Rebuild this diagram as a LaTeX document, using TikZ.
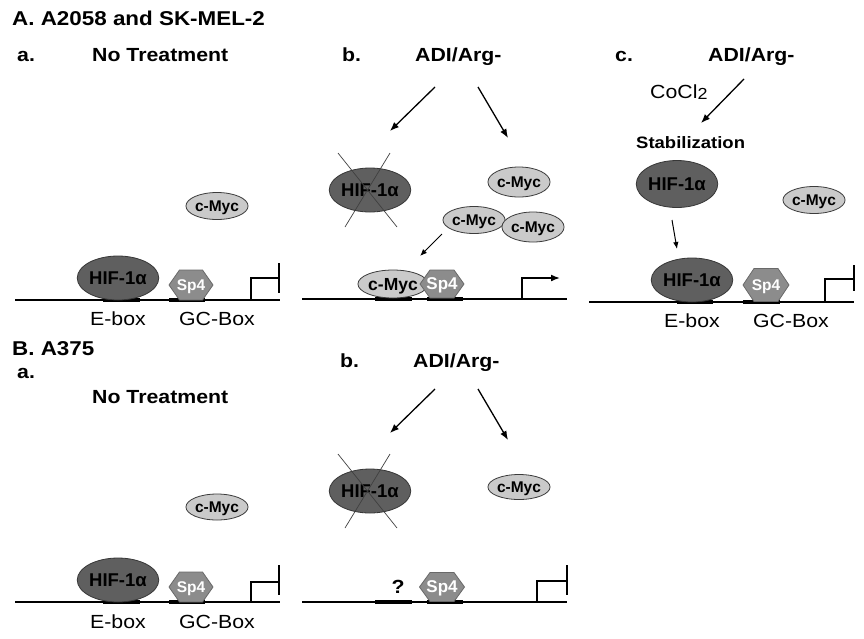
\documentclass[tikz,border=0pt]{standalone}
\usepackage{fontspec}
\setmainfont[FakeStretch=1.12]{Liberation Sans}
\newfontfamily\nodefont{Liberation Sans}
\usetikzlibrary{shapes.geometric,arrows.meta}
\definecolor{hifgray}{RGB}{95,95,95}
\definecolor{hifline}{RGB}{55,55,55}
\definecolor{mycgray}{RGB}{202,202,202}
\definecolor{mycline}{RGB}{60,60,60}
\definecolor{spgray}{RGB}{140,140,140}
\definecolor{spline}{RGB}{105,105,105}
% hexagon body: x, y, half-width, half-height, chamfer
\newcommand{\sphexagon}[5]{%
  \filldraw[sphex] ({#1-#3},#2) -- ({#1-#3+#5},{#2-#4}) -- ({#1+#3-#5},{#2-#4})
    -- ({#1+#3},#2) -- ({#1+#3-#5},{#2+#4}) -- ({#1-#3+#5},{#2+#4}) -- cycle;}
\begin{document}
\begin{tikzpicture}[x=1pt,y=-1pt,
  hifnode/.style={ellipse, draw=hifline, fill=hifgray, line width=0.8pt, inner sep=0pt, text depth=0pt, font=\nodefont\fontsize{18.5}{19}\selectfont\bfseries, text=black},
  mycnode/.style={ellipse, draw=mycline, fill=mycgray, line width=0.8pt, inner sep=0pt, text depth=0pt, font=\nodefont\fontsize{15.5}{16}\selectfont\bfseries},
  sphex/.style={draw=spline, fill=spgray, line width=0.8pt, line join=miter},
  sptext/.style={rectangle, inner sep=0pt, minimum width=44pt, minimum height=30pt, text depth=0pt, text=white, font=\nodefont\fontsize{15.5}{16}\selectfont\bfseries},
  dna/.style={line width=1.6pt},
  site/.style={line width=3.5pt},
  arr/.style={line width=1.3pt, -{Latex[length=9pt,width=7pt]}},
  sarr/.style={line width=1pt, -{Latex[length=7pt,width=5.5pt]}},
  crossline/.style={line width=0.7pt, draw=black!75},
  head/.style={font=\fontsize{20}{24}\selectfont\bfseries, anchor=base west, inner sep=0pt},
  lab/.style={font=\fontsize{19}{22}\selectfont\bfseries, anchor=base west, inner sep=0pt},
  boxlab/.style={font=\fontsize{19}{22}\selectfont, anchor=base, inner sep=0pt}
]
\useasboundingbox (0,0) rectangle (864,638);
\fill[white] (0,0) rectangle (864,638);

% ================= Panel A =================
\node[head] (hA) at (12,25) {A. A2058 and SK-MEL-2};

% ---- A.a ----
\node[lab] (aA) at (17,61) {a.};
\node[lab] (ntA) at (92,61) {No Treatment};
\coordinate (dA1s) at (15,300); \coordinate (dA1e) at (280,300);
\draw[dna] (dA1s) -- (dA1e);
\coordinate (eA1s) at (103,300); \coordinate (eA1e) at (140,300);
\coordinate (gA1s) at (169,300); \coordinate (gA1e) at (205,300);
\draw[site] (eA1s) -- (eA1e);
\draw[site] (gA1s) -- (gA1e);
\node[mycnode, minimum width=52pt, minimum height=27pt] (mycA1) at (217,206) {c-Myc};
\node[hifnode, minimum width=60pt, minimum height=44pt] (hifA1) at (118,278) {HIF-1α};
\sphexagon{191}{285}{22}{15}{10.5}
\node[sptext] (spA1) at (191,285) {Sp4};
\coordinate (pA1) at (251,300); \coordinate (pA1c) at (279,278);
\coordinate (bA1t) at (279,263); \coordinate (bA1b) at (279,293);
\draw[dna] (pA1) |- (pA1c);
\draw[dna] (bA1t) -- (bA1b);
\node[boxlab] (ebA1) at (118,325) {E-box};
\node[boxlab] (gcA1) at (217,325) {GC-Box};

% ---- A.b ----
\node[lab] (bA) at (342,61) {b.};
\node[lab] (adiA2) at (415,61) {ADI/Arg-};
\coordinate (a2l0) at (435,87); \coordinate (a2l1) at (390,131);
\coordinate (a2r0) at (478,87); \coordinate (a2r1) at (508,138);
\draw[arr] (a2l0) -- (a2l1);
\draw[arr] (a2r0) -- (a2r1);
\node[hifnode, minimum width=65pt, minimum height=44pt] (hifA2) at (370,190) {HIF-1α};
\coordinate (xA1) at (338,153); \coordinate (xA2) at (397,227);
\coordinate (xA3) at (390,153); \coordinate (xA4) at (345,227);
\draw[crossline] (xA1) -- (xA2);
\draw[crossline] (xA3) -- (xA4);
\node[mycnode, minimum width=52pt, minimum height=30pt] (mycA2a) at (519,182) {c-Myc};
\node[mycnode, minimum width=53pt, minimum height=27pt] (mycA2b) at (474,220) {c-Myc};
\node[mycnode, minimum width=53pt, minimum height=30pt] (mycA2c) at (533,227) {c-Myc};
\coordinate (sa0) at (442,234); \coordinate (sa1) at (420,256);
\draw[sarr] (sa0) -- (sa1);
\coordinate (dA2s) at (302,299); \coordinate (dA2e) at (567,299);
\draw[dna] (dA2s) -- (dA2e);
\coordinate (eA2s) at (375,299); \coordinate (eA2e) at (412,299);
\coordinate (gA2s) at (427,299); \coordinate (gA2e) at (463,299);
\draw[site] (eA2s) -- (eA2e);
\draw[site] (gA2s) -- (gA2e);
\node[mycnode, minimum width=53pt, minimum height=28pt, font=\nodefont\fontsize{17.5}{18}\selectfont\bfseries] (mycA2d) at (393,284) {c-Myc};
\sphexagon{442}{284}{22}{14}{10}
\node[sptext, minimum height=28pt, font=\nodefont\fontsize{17}{18}\selectfont\bfseries] (spA2) at (442,284) {Sp4};
\coordinate (pA2) at (522,299); \coordinate (pA2c) at (560,278);
\draw[dna, -{Latex[length=9pt,width=7pt]}] (pA2) |- (pA2c);

% ---- A.c ----
\node[lab] (cA) at (615,61) {c.};
\node[lab] (adiA3) at (708,61) {ADI/Arg-};
\node[font=\fontsize{19}{22}\selectfont, anchor=base west, inner sep=0pt] (coA) at (650,98) {CoCl\raisebox{-1.5pt}{\fontsize{16}{16}\selectfont 2}};
\coordinate (a3a) at (744,79); \coordinate (a3b) at (701,123);
\draw[arr] (a3a) -- (a3b);
\node[font=\fontsize{16.5}{20}\selectfont\bfseries, anchor=base west, inner sep=0pt] (stA) at (636,148) {Stabilization};
\node[hifnode, minimum width=69pt, minimum height=47pt] (hifA3a) at (677,184) {HIF-1α};
\node[mycnode, minimum width=54pt, minimum height=27pt] (mycA3) at (814,200) {c-Myc};
\coordinate (a3c) at (672,220); \coordinate (a3d) at (677,249);
\draw[sarr] (a3c) -- (a3d);
\coordinate (dA3s) at (589,302); \coordinate (dA3e) at (854,302);
\draw[dna] (dA3s) -- (dA3e);
\coordinate (eA3s) at (677,302); \coordinate (eA3e) at (713,302);
\coordinate (gA3s) at (743,302); \coordinate (gA3e) at (780,302);
\draw[site] (eA3s) -- (eA3e);
\draw[site] (gA3s) -- (gA3e);
\node[hifnode, minimum width=61pt, minimum height=44pt] (hifA3b) at (692,280) {HIF-1α};
\sphexagon{766}{285}{23}{16.5}{11}
\node[sptext, minimum width=46pt, minimum height=33pt] (spA3) at (766,285) {Sp4};
\coordinate (pA3) at (825,302); \coordinate (pA3c) at (854,279);
\coordinate (bA3t) at (854,265); \coordinate (bA3b) at (854,291);
\draw[dna] (pA3) |- (pA3c);
\draw[dna] (bA3t) -- (bA3b);
\node[boxlab] (ebA3) at (692,327) {E-box};
\node[boxlab] (gcA3) at (791,327) {GC-Box};

% ================= Panel B =================
\node[head] (hB) at (12,355) {B. A375};

% ---- B.a ----
\node[lab] (aB) at (17,378) {a.};
\node[lab] (ntB) at (92,403) {No Treatment};
\coordinate (dB1s) at (15,602); \coordinate (dB1e) at (280,602);
\draw[dna] (dB1s) -- (dB1e);
\coordinate (eB1s) at (103,602); \coordinate (eB1e) at (140,602);
\coordinate (gB1s) at (169,602); \coordinate (gB1e) at (205,602);
\draw[site] (eB1s) -- (eB1e);
\draw[site] (gB1s) -- (gB1e);
\node[mycnode, minimum width=52pt, minimum height=26pt] (mycB1) at (217,507) {c-Myc};
\node[hifnode, minimum width=60pt, minimum height=44pt] (hifB1) at (118,580) {HIF-1α};
\sphexagon{191}{587}{22}{15}{10.5}
\node[sptext] (spB1) at (191,587) {Sp4};
\coordinate (pB1) at (251,602); \coordinate (pB1c) at (279,582);
\coordinate (bB1t) at (279,565); \coordinate (bB1b) at (279,595);
\draw[dna] (pB1) |- (pB1c);
\draw[dna] (bB1t) -- (bB1b);
\node[boxlab] (ebB1) at (118,628) {E-box};
\node[boxlab] (gcB1) at (217,628) {GC-Box};

% ---- B.b ----
\node[lab] (bB) at (340,367) {b.};
\node[lab] (adiB2) at (413,367) {ADI/Arg-};
\coordinate (b2l0) at (435,389); \coordinate (b2l1) at (390,433);
\coordinate (b2r0) at (478,389); \coordinate (b2r1) at (508,440);
\draw[arr] (b2l0) -- (b2l1);
\draw[arr] (b2r0) -- (b2r1);
\node[hifnode, minimum width=65pt, minimum height=44pt] (hifB2) at (370,491) {HIF-1α};
\coordinate (xB1) at (338,454); \coordinate (xB2) at (397,528);
\coordinate (xB3) at (390,454); \coordinate (xB4) at (345,528);
\draw[crossline] (xB1) -- (xB2);
\draw[crossline] (xB3) -- (xB4);
\node[mycnode, minimum width=52pt, minimum height=25pt] (mycB2) at (519,487) {c-Myc};
\coordinate (dB2s) at (302,602); \coordinate (dB2e) at (567,602);
\draw[dna] (dB2s) -- (dB2e);
\coordinate (eB2s) at (375,602); \coordinate (eB2e) at (412,602);
\coordinate (gB2s) at (427,602); \coordinate (gB2e) at (463,602);
\draw[site] (eB2s) -- (eB2e);
\draw[site] (gB2s) -- (gB2e);
\node[font=\fontsize{19}{22}\selectfont\bfseries, anchor=base, inner sep=0pt] (qB) at (398,593) {?};
\sphexagon{442}{587}{22.5}{14.5}{10.5}
\node[sptext, minimum width=45pt, minimum height=29pt, font=\nodefont\fontsize{17}{18}\selectfont\bfseries] (spB2) at (442,587) {Sp4};
\coordinate (pB2) at (537,602); \coordinate (pB2c) at (567,581);
\coordinate (bB2t) at (567,565); \coordinate (bB2b) at (567,595);
\draw[dna] (pB2) |- (pB2c);
\draw[dna] (bB2t) -- (bB2b);
\end{tikzpicture}
\end{document}
